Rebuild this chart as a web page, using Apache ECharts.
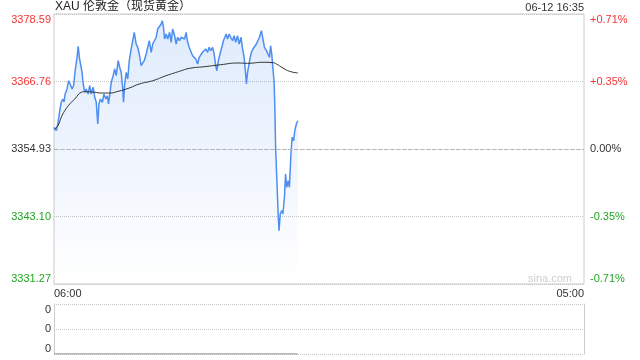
<!DOCTYPE html>
<html>
<head>
<meta charset="utf-8">
<script src="https://cdn.jsdelivr.net/npm/echarts@6/dist/echarts.min.js"></script>
<style>
html,body{margin:0;padding:0;background:#fff;}
#c{width:640px;height:360px;}
</style>
</head>
<body>
<div id="c"></div>
<script>
// ---- data (minutes after 06:00) ----
const titleText = 'XAU 伦敦金（现货黄金）';
const timeStamp = '06-12 16:35';
const basePrice = 3354.93;
const priceStep = 11.83;
const xTickLabels = ['06:00', '05:00'];
const sessionMinutes = 1380;
const minutes = [0,6,10,15,19,23,26,29,34,38,42,47,51,55,60,63,66,69,73,76,80,84,89,93,97,102,106,110,114,117,121,126,130,135,139,142,146,149,154,158,162,167,171,175,179,181,184,188,192,196,201,205,209,214,218,222,227,231,235,240,244,248,253,257,261,266,270,275,279,282,285,288,292,296,301,305,309,314,318,322,327,331,335,340,344,348,352,356,361,365,369,374,378,382,387,391,395,400,404,408,413,417,421,424,428,431,434,438,441,445,448,452,456,460,465,469,473,478,482,487,491,495,499,501,504,507,511,514,518,522,527,531,535,540,544,548,553,557,561,564,567,570,573,575,577,579,581,584,586,589,593,596,600,603,606,610,613,617,620,624,627,631,635];
const prices = [3358.73,3358.14,3359.31,3361.64,3363.17,3363.69,3363.17,3364.57,3365.45,3366.90,
3366.32,3365.45,3366.02,3368.65,3371.00,3372.93,3371.00,3369.83,3368.37,3366.32,
3364.87,3365.45,3364.57,3366.02,3364.57,3365.74,3363.99,3363.11,3359.31,3362.82,
3363.69,3363.11,3364.57,3363.69,3364.27,3362.82,3364.87,3366.62,3367.78,3368.95,
3367.78,3370.41,3369.25,3368.37,3365.45,3363.11,3366.32,3368.37,3367.20,3370.41,
3372.46,3373.91,3375.38,3373.33,3372.75,3371.58,3369.53,3369.83,3370.41,3371.58,
3372.75,3373.91,3371.88,3373.33,3373.63,3374.51,3375.96,3376.26,3376.84,3377.42,
3376.26,3374.21,3375.09,3374.21,3375.38,3373.63,3375.96,3374.79,3373.33,3374.51,
3373.91,3374.51,3374.51,3374.21,3375.38,3373.63,3372.75,3373.03,3371.28,3371.58,
3370.70,3369.83,3371.00,3371.28,3371.88,3372.16,3372.46,3371.88,3372.75,3372.16,
3372.75,3371.58,3369.53,3368.65,3370.41,3371.28,3371.00,3373.03,3373.91,3374.51,
3375.09,3374.21,3375.09,3374.51,3373.91,3374.79,3373.63,3374.79,3373.33,3374.51,
3372.46,3371.00,3368.07,3366.32,3368.37,3369.53,3371.00,3371.88,3372.46,3372.16,
3373.33,3373.03,3374.51,3375.66,3374.21,3372.75,3372.16,3371.88,3371.00,3373.03,
3371.58,3368.95,3366.90,3362.24,3355.23,3351.72,3348.22,3342.96,3340.61,3343.54,
3344.12,3343.54,3346.47,3350.55,3348.22,3349.37,3348.22,3354.05,3356.98,3356.39,
3358.14,3359.31,3359.89];
const avgMinutes = [0,10,19,28,41,54,71,80,106,123,145,167,196,222,257,292,327,353,391,434,478,504,544,570,579,596,613,635];
const avgPrices = [3358.40,3359.01,3360.49,3361.64,3362.82,3363.69,3364.87,3364.97,3364.87,3364.74,3364.74,3365.04,3365.62,3366.32,3366.90,3367.78,3368.55,3369.07,3369.35,3369.70,3370.00,3369.95,3370.13,3370.06,3369.83,3369.13,3368.55,3368.25];
const volMinutes = [0, 635];
const volumes = [0, 0];
const volTickLabels = ['0', '0', '0'];

// ---- build ----
const toStep = p => (p - basePrice) / priceStep;
const priceData = minutes.map((m, i) => [m, toStep(prices[i])]);
const avgData = avgMinutes.map((m, i) => [m, toStep(avgPrices[i])]);
const volData = volMinutes.map((m, i) => [m, volumes[i]]);

const RED = '#f53333', GREEN = '#21a621', DARK = '#333';
const FONT = '"Liberation Sans", Arial, "Noto Sans CJK SC", sans-serif';
const labColor = v => v > 1e-9 ? RED : (v < -1e-9 ? GREEN : DARK);

const chart = echarts.init(document.getElementById('c'), null, {renderer: 'canvas'});
chart.setOption({
  animation: false,
  backgroundColor: '#fff',
  textStyle: {fontFamily: FONT},
  graphic: [
    {type: 'text', left: 55, top: 1, style: {text: titleText, fontSize: 12, fill: '#222', fontFamily: FONT}},
    {type: 'text', right: 56, top: 2, style: {text: timeStamp, fontSize: 11, fill: '#333', fontFamily: FONT}},
    {type: 'text', right: 68, top: 273, style: {text: 'sina.com', fontSize: 11, fill: '#cfcfcf', fontFamily: FONT}}
  ],
  grid: [
    {left: 54, right: 56, top: 14, height: 270, show: true, borderColor: '#ccc', borderWidth: 1, backgroundColor: 'transparent'},
    {left: 54, right: 56, top: 304, height: 50}
  ],
  xAxis: [
    {type: 'value', gridIndex: 0, min: 0, max: sessionMinutes, interval: sessionMinutes,
     axisLine: {show: false}, axisTick: {show: false}, splitLine: {show: false},
     axisLabel: {show: true, margin: 4, fontSize: 11, color: DARK, fontFamily: FONT,
       alignMinLabel: 'left', alignMaxLabel: 'right',
       formatter: (v, i) => xTickLabels[i] || ''}},
    {type: 'value', gridIndex: 1, min: 0, max: sessionMinutes,
     axisLine: {show: false}, axisTick: {show: false}, splitLine: {show: false}, axisLabel: {show: false}}
  ],
  yAxis: [
    {type: 'value', gridIndex: 0, min: -2, max: 2, interval: 1,
     axisLine: {show: false}, axisTick: {show: false},
     splitLine: {show: true, lineStyle: {color: '#c4c4c4', type: 'dotted', width: 1}},
     axisLabel: {margin: 3, fontSize: 11, fontFamily: FONT,
       verticalAlignMaxLabel: 'top', verticalAlignMinLabel: 'bottom',
       color: v => labColor(Number(v)),
       formatter: v => (basePrice + v * priceStep).toFixed(2)}},
    {type: 'value', gridIndex: 0, position: 'right', min: -2, max: 2, interval: 1,
     axisLine: {show: false}, axisTick: {show: false}, splitLine: {show: false},
     axisLabel: {margin: 6, fontSize: 11, fontFamily: FONT,
       verticalAlignMaxLabel: 'top', verticalAlignMinLabel: 'bottom',
       color: v => labColor(Number(v)),
       formatter: v => {
         const pct = v * priceStep / basePrice * 100;
         if (Math.abs(pct) < 1e-9) return '0.00%';
         return (pct > 0 ? '+' : '') + pct.toFixed(2) + '%';
       }}},
    {type: 'value', gridIndex: 1, min: 0, max: 2, interval: 1,
     axisLine: {show: true, lineStyle: {color: '#ccc'}}, axisTick: {show: false},
     splitLine: {show: true, lineStyle: {color: '#c4c4c4', type: 'dotted', width: 1}},
     axisLabel: {margin: 3, fontSize: 11, fontFamily: FONT, color: DARK,
       verticalAlignMaxLabel: 'top', verticalAlignMinLabel: 'bottom',
       formatter: (v, i) => volTickLabels[i] || ''}},
    {type: 'value', gridIndex: 1, position: 'right', min: 0, max: 2, interval: 1,
     axisLine: {show: true, lineStyle: {color: '#ccc'}}, axisTick: {show: false},
     splitLine: {show: false}, axisLabel: {show: false}}
  ],
  series: [
    {type: 'line', name: 'price', xAxisIndex: 0, yAxisIndex: 0, data: priceData,
     showSymbol: false, symbol: 'none', smooth: false,
     lineStyle: {color: '#4d8ef0', width: 1.5},
     areaStyle: {origin: 'start', color: new echarts.graphic.LinearGradient(0, 0, 0, 1, [
       {offset: 0, color: 'rgba(77,142,240,0.26)'},
       {offset: 1, color: 'rgba(77,142,240,0.0)'}
     ])},
     markLine: {silent: true, symbol: 'none', label: {show: false},
       lineStyle: {color: '#b5b5b5', type: [4, 2], width: 1},
       data: [{yAxis: 0}]},
     z: 3},
    {type: 'line', name: 'avg', xAxisIndex: 0, yAxisIndex: 0, data: avgData,
     showSymbol: false, symbol: 'none', smooth: true,
     lineStyle: {color: '#333', width: 1}, z: 4},
    {type: 'line', name: 'vol', xAxisIndex: 1, yAxisIndex: 2, data: volData,
     showSymbol: false, symbol: 'none',
     lineStyle: {color: '#777', width: 1}, z: 4}
  ]
});
</script>
</body>
</html>
